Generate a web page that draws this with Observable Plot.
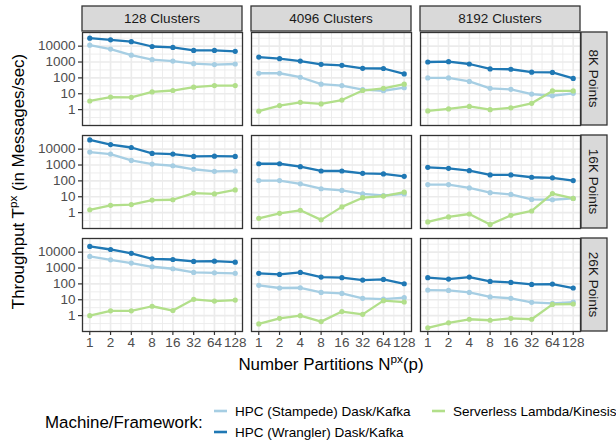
<!DOCTYPE html>
<html><head><meta charset="utf-8">
<script src="https://cdn.jsdelivr.net/npm/d3@7"></script>
<script src="https://cdn.jsdelivr.net/npm/@observablehq/plot@0.6"></script>
<style>
html,body{margin:0;padding:0;background:#fff;overflow:hidden}
#chart{width:616px;height:441px;overflow:hidden}
</style></head><body><div id="chart"></div>
<script>
const clusters = ["128 Clusters", "4096 Clusters", "8192 Clusters"];
const pointSizes = ["8K Points", "16K Points", "26K Points"];
const partitions = [1, 2, 4, 8, 16, 32, 64, 128];
const frameworks = ["HPC (Stampede) Dask/Kafka", "HPC (Wrangler) Dask/Kafka", "Serverless Lambda/Kinesis"];
const colors = ["#A6CEE3", "#1F78B4", "#B2DF8A"];
const yTicks = [1, 10, 100, 1000, 10000];

// values per cluster column: [128, 4096, 8192]
const stampede8K = [
  [11500, 6500, 2700, 1400, 1150, 790, 690, 750],
  [196, 196, 110, 40, 33, 18, 15.5, 24],
  [100, 100, 60, 22, 19, 9.6, 7.5, 10.6]
];
const wrangler8K = [
  [31600, 25000, 19000, 9500, 8300, 5400, 5400, 4700],
  [2050, 1630, 1150, 720, 620, 400, 390, 178],
  [1000, 1050, 750, 365, 350, 230, 220, 92]
];
const serverless8K = [
  [3.5, 6.2, 6, 13, 16, 26, 33, 33],
  [0.8, 1.8, 2.9, 2.3, 4, 16, 22, 40],
  [0.83, 1.1, 1.6, 1, 1.3, 2.5, 15, 15]
];
const stampede16K = [
  [6500, 4900, 1950, 1150, 900, 540, 400, 420],
  [105, 105, 65, 32, 25, 15, 12, 15],
  [59, 59, 36, 18, 14, 6.8, 6.5, 7.9]
];
const wrangler16K = [
  [38000, 19500, 12700, 5400, 4900, 3500, 3600, 3500],
  [1200, 1200, 790, 420, 420, 300, 275, 195],
  [715, 620, 440, 237, 237, 170, 155, 105]
];
const serverless16K = [
  [1.5, 2.9, 3.2, 6.2, 6.5, 17, 15, 27],
  [0.44, 0.9, 1.4, 0.35, 2.3, 8.7, 11, 19.5],
  [0.26, 0.54, 0.82, 0.18, 0.68, 1.27, 16, 7.9]
];
const stampede26K = [
  [5350, 3300, 2050, 1200, 900, 530, 500, 460],
  [81, 55, 57, 29, 25, 12.3, 11, 13.5],
  [41, 39, 29, 15, 12.3, 6.9, 5.9, 7.2]
];
const wrangler26K = [
  [23000, 14700, 8300, 3800, 3450, 2600, 2700, 2350],
  [460, 395, 530, 270, 245, 174, 192, 102],
  [245, 200, 270, 144, 124, 93, 98, 55]
];
const serverless26K = [
  [1.0, 2.0, 2.0, 3.9, 2.1, 10.6, 8.3, 9.6],
  [0.3, 0.68, 1.0, 0.42, 1.8, 1.2, 8.8, 7.2],
  [0.17, 0.35, 0.59, 0.51, 0.68, 0.59, 5.1, 5.4]
];

const byFramework = [
  [stampede8K, stampede16K, stampede26K],
  [wrangler8K, wrangler16K, wrangler26K],
  [serverless8K, serverless16K, serverless26K]
];
const table = [];
frameworks.forEach((f, fi) => byFramework[fi].forEach((rowArr, pi) => rowArr.forEach((vals, ci) =>
  vals.forEach((v, k) => table.push({framework: f, points: pointSizes[pi], clusters: clusters[ci], partitions: partitions[k], value: v})))));

const xMinor = partitions.slice(0, -1).map(p => p * Math.SQRT2);
const yMinor = [yTicks[0] / Math.sqrt(10), ...yTicks.map(t => t * Math.sqrt(10))];

const FONT = "'Liberation Sans', Arial, Helvetica, sans-serif";
const plot = Plot.plot({
  width: 616, height: 441,
  marginLeft: 81, marginRight: 35, marginTop: 31, marginBottom: 110,
  style: {fontFamily: FONT, background: "#fff", color: "#000"},
  facet: {data: table, x: "clusters", y: "points"},
  fx: {domain: clusters, paddingInner: 0.0545, paddingOuter: 0, axis: null, label: null},
  fy: {domain: pointSizes, paddingInner: 0.1, paddingOuter: 0, axis: null, label: null},
  x: {type: "log", base: 2, domain: [2 ** -0.35, 2 ** 7.35], label: null},
  y: {type: "log", domain: [10 ** -1.0, 10 ** 4.86], label: null},
  color: {domain: frameworks, range: colors},
  marks: [
    Plot.gridX({ticks: xMinor, stroke: "#EBEBEB", strokeOpacity: 1, strokeWidth: 0.9}),
    Plot.gridY({ticks: yMinor, stroke: "#EBEBEB", strokeOpacity: 1, strokeWidth: 0.9}),
    Plot.gridX({ticks: partitions, stroke: "#EBEBEB", strokeOpacity: 1, strokeWidth: 1.7}),
    Plot.gridY({ticks: yTicks, stroke: "#EBEBEB", strokeOpacity: 1, strokeWidth: 1.7}),
    Plot.line(table, {x: "partitions", y: "value", z: "framework", stroke: "framework", strokeWidth: 2.3}),
    Plot.dot(table, {x: "partitions", y: "value", fill: "framework", r: 2.6, stroke: "none"}),
    Plot.frame({stroke: "#333333", strokeWidth: 1.3}),
    Plot.axisY({ticks: yTicks, tickFormat: d => String(d), tickSize: 4, tickPadding: 3, stroke: "#333333", strokeWidth: 1.2, fill: "#4D4D4D", fontSize: 13.5, label: null}),
    Plot.axisX({ticks: partitions, tickFormat: d => String(d), tickSize: 4, tickPadding: 2, stroke: "#333333", strokeWidth: 1.2, fill: "#4D4D4D", fontSize: 13.5, label: null})
  ]
});
document.getElementById("chart").appendChild(plot);

const svg = d3.select(plot);
const fx = plot.scale("fx");
const fy = plot.scale("fy");
const bwx = fx.bandwidth, bwy = fy.bandwidth;
const top0 = fy.apply(pointSizes[0]);
const right0 = fx.apply(clusters[clusters.length - 1]) + bwx;

const g = svg.append("g").attr("font-family", FONT);
// top strips
clusters.forEach(c => {
  const x0 = fx.apply(c);
  g.append("rect").attr("x", x0).attr("y", top0 - 26).attr("width", bwx).attr("height", 25)
    .attr("fill", "#D9D9D9").attr("stroke", "#333333").attr("stroke-width", 1.3);
  g.append("text").attr("x", x0 + bwx / 2).attr("y", top0 - 13.5).attr("dy", "0.35em")
    .attr("text-anchor", "middle").attr("font-size", 13.5).attr("fill", "#1A1A1A").text(c);
});
// right strips
pointSizes.forEach(p => {
  const y0 = fy.apply(p);
  g.append("rect").attr("x", right0 + 1).attr("y", y0).attr("width", 26).attr("height", bwy)
    .attr("fill", "#D9D9D9").attr("stroke", "#333333").attr("stroke-width", 1.3);
  g.append("text").attr("transform", `translate(${right0 + 14},${y0 + bwy / 2}) rotate(90)`)
    .attr("dy", "0.35em").attr("text-anchor", "middle").attr("font-size", 13.5).attr("fill", "#1A1A1A").text(p);
});
// axis titles
const bottom0 = fy.apply(pointSizes[pointSizes.length - 1]) + bwy;
const left0 = fx.apply(clusters[0]);
const xt = g.append("text").attr("x", (left0 + right0) / 2).attr("y", bottom0 + 39)
  .attr("text-anchor", "middle").attr("font-size", 16.9).attr("fill", "#000");
xt.append("tspan").text("Number Partitions N");
xt.append("tspan").attr("font-size", 11.8).attr("dy", -7).text("px");
xt.append("tspan").attr("dy", 7).text("(p)");

const yt = g.append("text").attr("transform", `translate(24,${(top0 + bottom0) / 2}) rotate(-90)`)
  .attr("text-anchor", "middle").attr("font-size", 16.9).attr("fill", "#000");
yt.append("tspan").text("Throughput T");
yt.append("tspan").attr("font-size", 11.8).attr("dy", -7).text("px");
yt.append("tspan").attr("dy", 7).text(" (in Messages/sec)");

// legend
const lg = g.append("g").attr("text-anchor", "start");
lg.append("text").attr("x", 45).attr("y", 422).attr("dy", "0.35em").attr("text-anchor", "start")
  .attr("font-size", 16.9).attr("fill", "#000").text("Machine/Framework:");
const legendPos = [[214, 411], [214, 432], [432, 411]];
frameworks.forEach((f, i) => {
  const [lx, ly] = legendPos[i];
  lg.append("line").attr("x1", lx).attr("x2", lx + 13).attr("y1", ly).attr("y2", ly)
    .attr("stroke", colors[i]).attr("stroke-width", 2.6);
  lg.append("text").attr("x", lx + 21).attr("y", ly).attr("dy", "0.35em").attr("text-anchor", "start")
    .attr("font-size", 13.5).attr("fill", "#000").text(f);
});
</script></body></html>
